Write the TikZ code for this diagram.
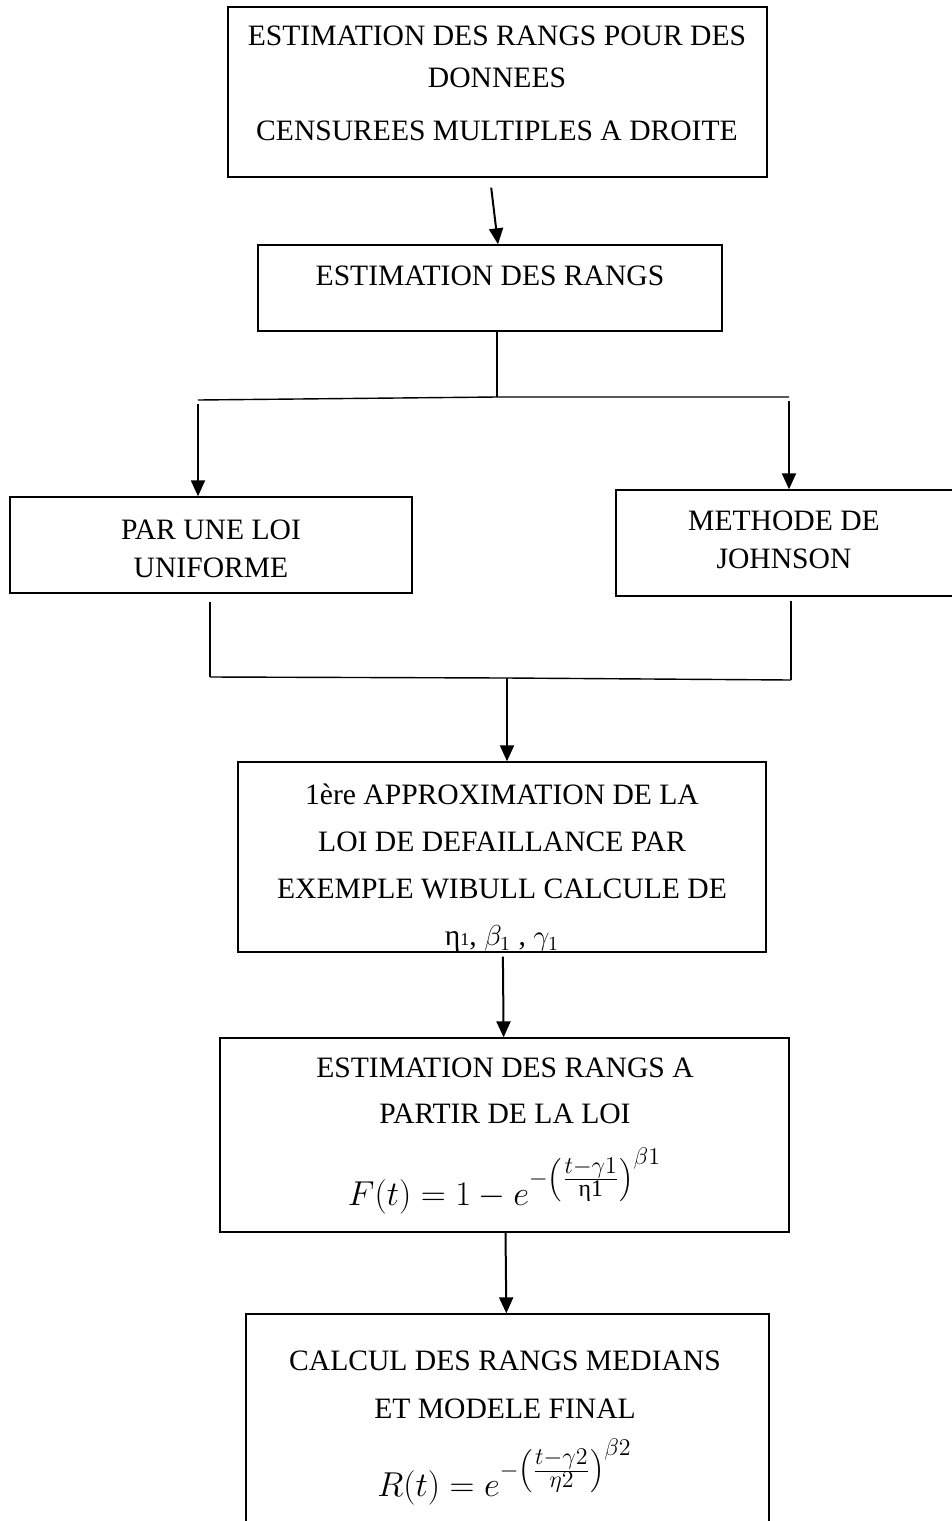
\documentclass[tikz,border=0pt]{standalone}
\usepackage{amsmath}
\usepackage{fontspec}
\setmainfont{Liberation Serif}
\usetikzlibrary{arrows.meta,fit}

\begin{document}
\begin{tikzpicture}[x=0.5pt, y=-0.5pt,
  box/.style = {draw, line width=0.7pt, inner sep=0pt},
  txt/.style = {align=center, inner sep=0pt, anchor=north, font=\fontsize{14.8}{19}\selectfont},
  frm/.style = {inner sep=0pt, font=\fontsize{17}{20}\selectfont},
  arr/.style = {-{Triangle[width=7pt,length=8pt]}, line width=1pt},
  bar/.style = {line width=0.7pt}]
  \useasboundingbox (0,0) rectangle (952,1521);
  % boxes
  \node[box, fit={(228,7) (767,177)}] (b1) {};
  \node[box, fit={(258,245) (722,331)}] (b2) {};
  \node[box, fit={(10,497) (412,593)}] (b3) {};
  \node[box, fit={(616,490) (965,596)}] (b4) {};
  \node[box, fit={(238,762) (766,952)}] (b5) {};
  \node[box, fit={(220,1038) (789,1232)}] (b6) {};
  \node[box, fit={(246,1314) (769,1540)}] (b7) {};
  % texts
  \node[txt] (t1) at (497,25) {ESTIMATION DES RANGS POUR DES\\[2pt] DONNEES\\[7.5pt] CENSUREES MULTIPLES A DROITE};
  \node[txt] (t2) at (490,265) {ESTIMATION DES RANGS};
  \node[txt] (t3) at (211,519) {PAR UNE LOI\\ UNIFORME};
  \node[txt] (t4) at (784,510) {METHODE DE\\ JOHNSON};
  \node[txt] (t5) at (502,784) {1ère APPROXIMATION DE LA\\[4.5pt] LOI DE DEFAILLANCE PAR\\[4.5pt] EXEMPLE WIBULL CALCULE DE\\[4.5pt] η{\small 1}, $\beta_1$ , $\gamma_1$};
  \node[txt] (t6) at (505,1057) {ESTIMATION DES RANGS A\\[4pt] PARTIR DE LA LOI};
  \node[frm] (f6) at (505,1181) {$F(t) = 1 - e^{-\left(\frac{\scriptstyle t-\gamma 1}{\scriptstyle\text{η1}}\right)^{\scriptstyle\beta 1}}$};
  \node[frm] (f7) at (505,1472) {$R(t) = e^{-\left(\frac{\scriptstyle t-\gamma 2}{\scriptstyle\eta 2}\right)^{\scriptstyle\beta 2}}$};
  \node[txt] (t7) at (505,1350) {CALCUL DES RANGS MEDIANS\\[5pt] ET MODELE FINAL};
  % junctions
  \coordinate (j1) at (497,397);
  \coordinate (la) at (198,400);
  \coordinate (ra) at (789,397);
  \coordinate (j2) at (507,678);
  \coordinate (lb) at (210,677);
  \coordinate (rb) at (791,680);
  % connectors
  \draw[arr, shorten <=5pt] ([xshift=-3.75pt]b1.south) -- ([xshift=4pt]b2.north);
  \draw[bar] (b2.south -| j1) -- (j1);
  \draw[bar] (la) -- (j1) -- (ra);
  \draw[arr, shorten <=2pt] (la) -- (la |- b3.north);
  \draw[arr, shorten <=2pt] (ra) -- (ra |- b4.north);
  \draw[bar, shorten <=4pt] (b3.south -| lb) -- (lb);
  \draw[bar, shorten <=2pt] (b4.south -| rb) -- (rb);
  \draw[bar] (lb) -- (j2) -- (rb);
  \draw[arr] (j2) -- (j2 |- b5.north);
  \draw[arr, shorten <=2pt] (b5) -- (b6);
  \draw[arr] (b6) -- (b7);
\end{tikzpicture}
\end{document}
